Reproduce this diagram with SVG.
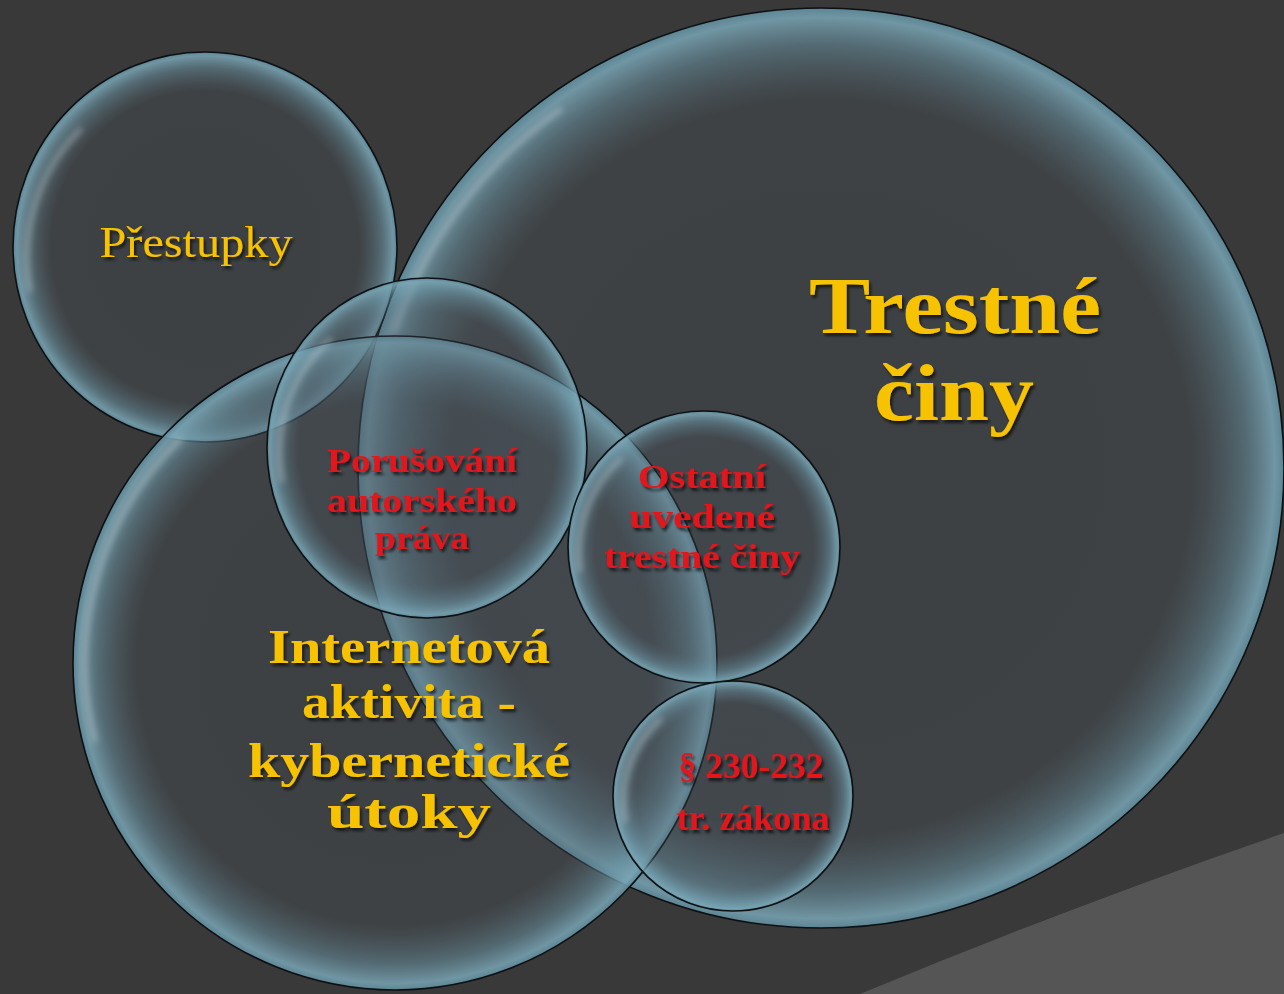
<svg xmlns="http://www.w3.org/2000/svg" width="1284" height="994" viewBox="0 0 1284 994">
<defs>
<radialGradient id="bubble" cx="0.5" cy="0.5" r="0.5">
<stop offset="0" stop-color="#4a5560" stop-opacity="0.25"/>
<stop offset="0.8" stop-color="#4d5a64" stop-opacity="0.27"/>
<stop offset="0.92" stop-color="#6a93a3" stop-opacity="0.55"/>
<stop offset="0.98" stop-color="#7aa6b6" stop-opacity="0.85"/>
<stop offset="1" stop-color="#5d8898" stop-opacity="0.95"/>
</radialGradient>
<filter id="shadow" x="-10%" y="-20%" width="130%" height="150%">
<feDropShadow dx="2" dy="3" stdDeviation="1.8" flood-color="#000" flood-opacity="0.65"/>
</filter>
<filter id="soft" x="-20%" y="-20%" width="140%" height="140%">
<feGaussianBlur stdDeviation="3"/>
</filter>
<style>
.c{fill:url(#bubble);stroke:#0d1012;stroke-width:1.6}
.hl{fill:none;stroke:#e8eef0;stroke-opacity:0.35;stroke-width:5;stroke-linecap:round;filter:url(#soft)}
.y{font-family:"Liberation Serif","DejaVu Serif",serif;fill:#f7c200;text-anchor:middle;filter:url(#shadow)}
.r{font-family:"Liberation Serif","DejaVu Serif",serif;font-weight:bold;fill:#e3141c;text-anchor:middle;filter:url(#shadow)}
</style>
</defs>
<rect width="1284" height="994" fill="#393939"/>
<path d="M860 994 Q1075 905 1284 833 L1284 994 Z" fill="#555555"/>

<g id="trestne">
<ellipse class="c" cx="821" cy="468" rx="463" ry="460"/>
<path class="hl" d="M395 330 A448 448 0 0 1 560 110"/>
<text class="y" font-size="80" font-weight="bold" x="955" y="333" textLength="292" lengthAdjust="spacingAndGlyphs">Trestné</text>
<text class="y" font-size="80" font-weight="bold" x="954" y="420" textLength="160" lengthAdjust="spacingAndGlyphs">činy</text>
</g>

<g id="prestupky">
<ellipse class="c" cx="205" cy="247" rx="192" ry="195"/>
<path class="hl" d="M30 290 A180 180 0 0 1 80 130"/>
<text class="y" font-size="44" x="196" y="257" textLength="193" lengthAdjust="spacingAndGlyphs">Přestupky</text>
</g>

<g id="internet">
<ellipse class="c" cx="395" cy="663" rx="322" ry="327"/>
<path class="hl" d="M95 740 A308 308 0 0 1 180 440"/>
<text class="y" font-size="48" font-weight="bold" x="409" y="663" textLength="282" lengthAdjust="spacingAndGlyphs">Internetová</text>
<text class="y" font-size="48" font-weight="bold" x="409" y="718" textLength="214" lengthAdjust="spacingAndGlyphs">aktivita -</text>
<text class="y" font-size="48" font-weight="bold" x="409" y="777" textLength="322" lengthAdjust="spacingAndGlyphs">kybernetické</text>
<text class="y" font-size="48" font-weight="bold" x="409" y="828" textLength="164" lengthAdjust="spacingAndGlyphs">útoky</text>
</g>

<g id="porusovani">
<ellipse class="c" cx="427" cy="448" rx="160" ry="170"/>
<path class="hl" d="M282 480 A150 150 0 0 1 330 340"/>
<text class="r" font-size="34" x="422" y="472" textLength="190" lengthAdjust="spacingAndGlyphs">Porušování</text>
<text class="r" font-size="34" x="422" y="512" textLength="190" lengthAdjust="spacingAndGlyphs">autorského</text>
<text class="r" font-size="34" x="422" y="549" textLength="94" lengthAdjust="spacingAndGlyphs">práva</text>
</g>

<g id="ostatni">
<circle class="c" cx="704" cy="547" r="136"/>
<path class="hl" d="M580 570 A126 126 0 0 1 620 460"/>
<text class="r" font-size="34" x="702" y="488" textLength="128" lengthAdjust="spacingAndGlyphs">Ostatní</text>
<text class="r" font-size="34" x="702" y="528" textLength="146" lengthAdjust="spacingAndGlyphs">uvedené</text>
<text class="r" font-size="34" x="702" y="568" textLength="196" lengthAdjust="spacingAndGlyphs">trestné činy</text>
</g>

<g id="paragraf">
<ellipse class="c" cx="733" cy="796" rx="120" ry="115"/>
<path class="hl" d="M625 820 A110 110 0 0 1 660 720"/>
<text class="r" font-size="36" x="751" y="778" textLength="145" lengthAdjust="spacingAndGlyphs">§ 230-232</text>
<text class="r" font-size="36" x="753" y="830" textLength="153" lengthAdjust="spacingAndGlyphs">tr. zákona</text>
</g>

<g id="connectors"/>
</svg>
